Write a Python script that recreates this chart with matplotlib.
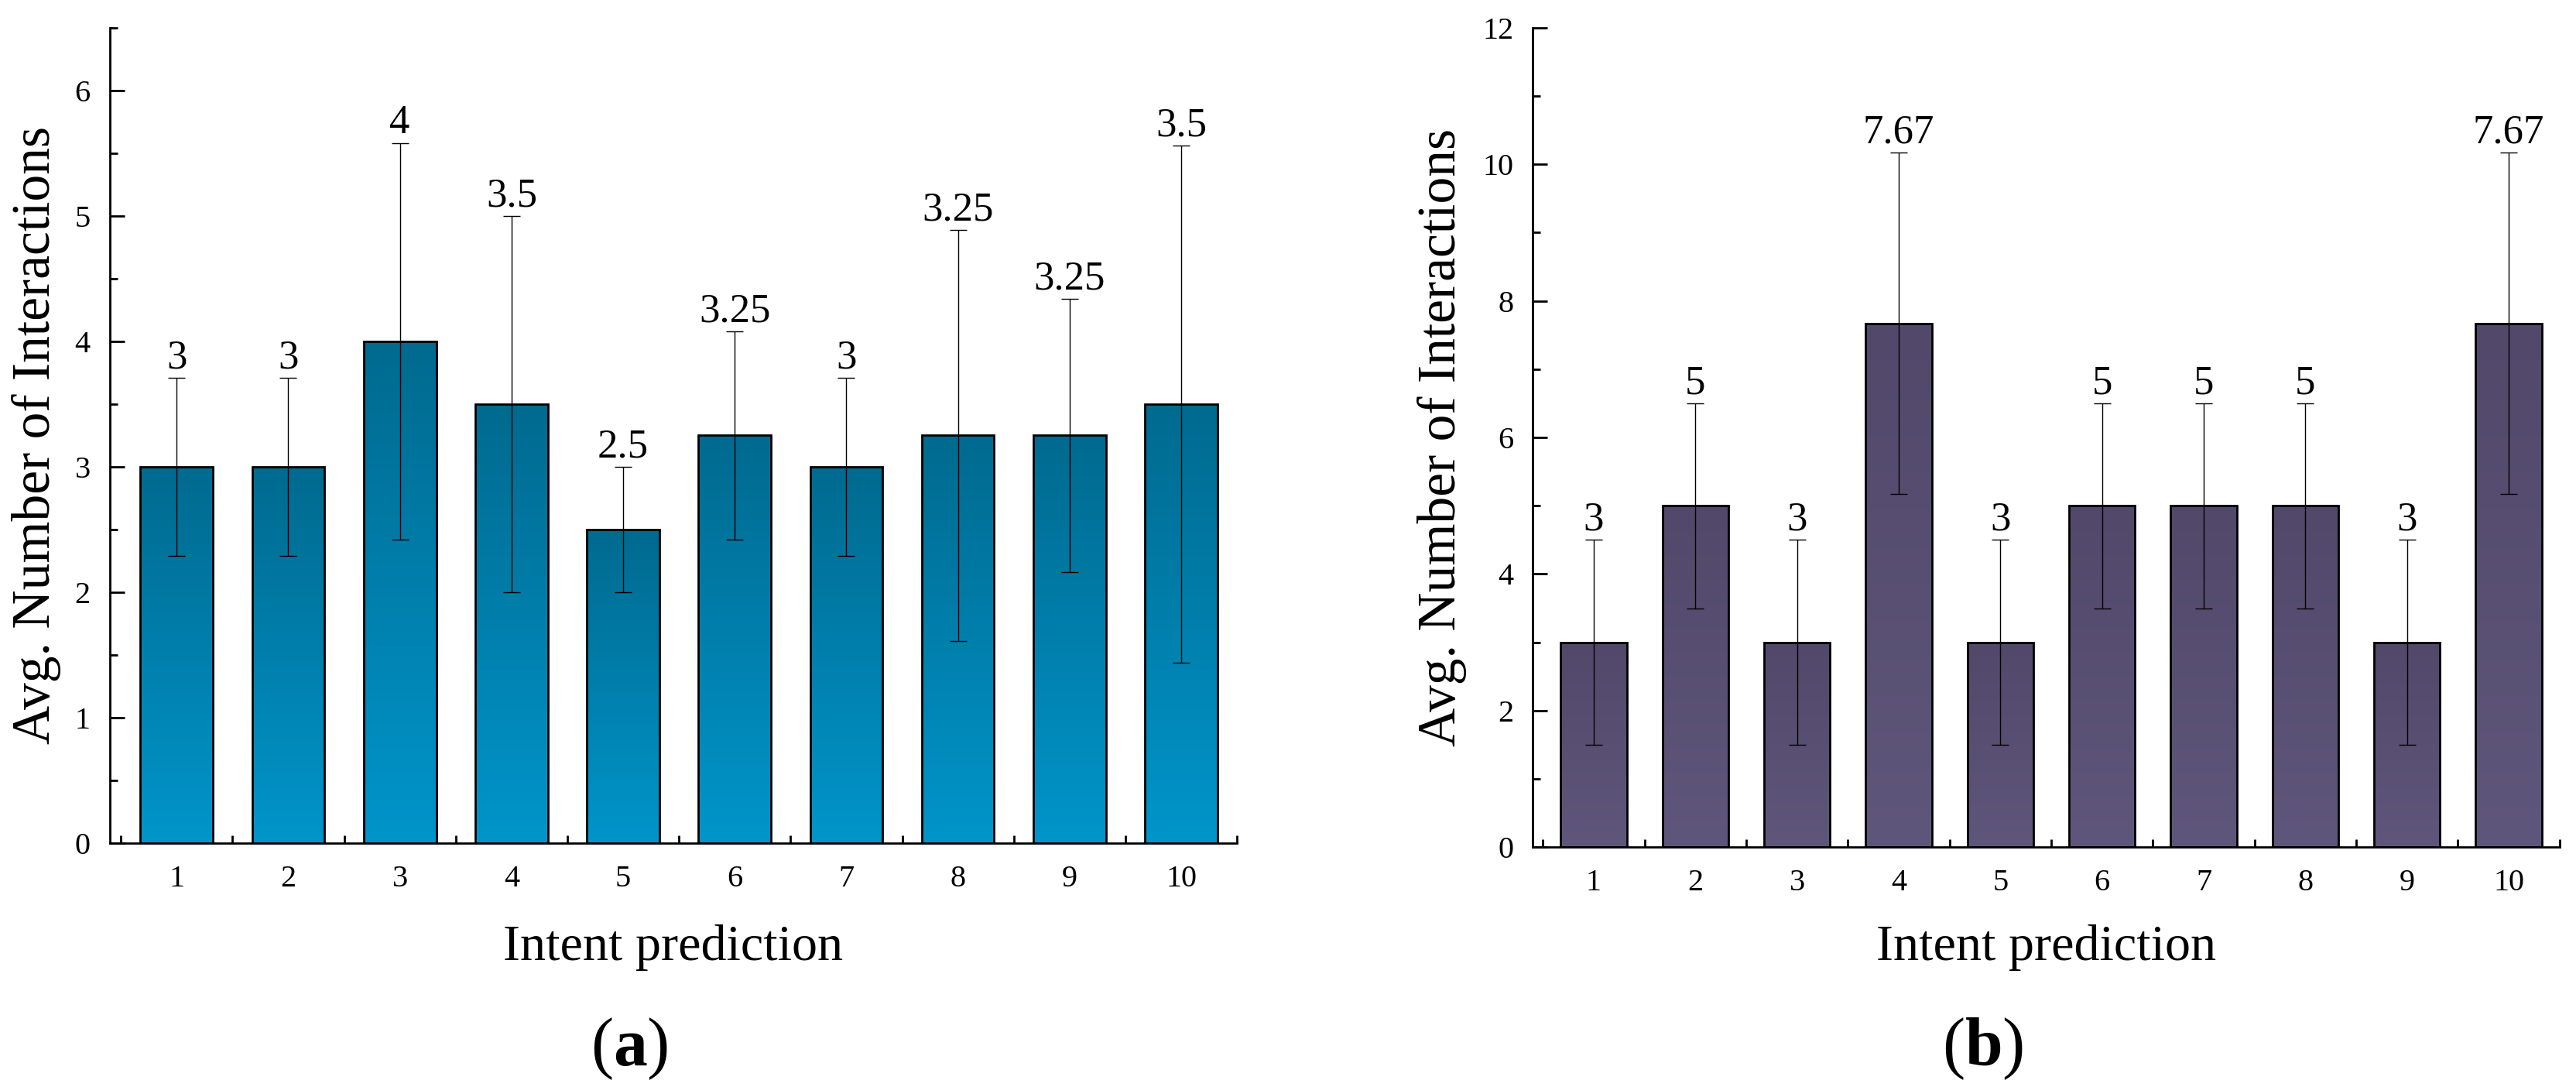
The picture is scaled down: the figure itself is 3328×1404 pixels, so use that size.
import matplotlib
matplotlib.use('Agg')
import matplotlib.pyplot as plt
import numpy as np
from matplotlib.colors import LinearSegmentedColormap
from matplotlib.ticker import FixedLocator, MultipleLocator

plt.rcParams['font.family'] = ['Liberation Serif', 'DejaVu Serif']
plt.rcParams['mathtext.fontset'] = 'custom'
plt.rcParams['mathtext.rm'] = 'Liberation Serif'
plt.rcParams['mathtext.bf'] = 'Liberation Serif:bold'

# ---- data ----
categories = [1, 2, 3, 4, 5, 6, 7, 8, 9, 10]
means_a = [3, 3, 4, 3.5, 2.5, 3.25, 3, 3.25, 3.25, 3.5]
err_a = [0.71, 0.71, 1.58, 1.5, 0.5, 0.83, 0.71, 1.64, 1.09, 2.06]
labels_a = ['3', '3', '4', '3.5', '2.5', '3.25', '3', '3.25', '3.25', '3.5']
means_b = [3, 5, 3, 7.67, 3, 5, 5, 5, 3, 7.67]
err_b = [1.5, 1.5, 1.5, 2.5, 1.5, 1.5, 1.5, 1.5, 1.5, 2.5]
labels_b = ['3', '5', '3', '7.67', '3', '5', '5', '5', '3', '7.67']
xlabel = 'Intent prediction'
ylabel = 'Avg. Number of Interactions'

fig = plt.figure(figsize=(16.64, 7.02), dpi=200)
ax1 = fig.add_axes([0.0426, 0.2244, 0.4376, 0.7502])
ax2 = fig.add_axes([0.5950, 0.2206, 0.3986, 0.7540])


def draw(ax, means, errs, labels, c_top, c_bot, ylim, major, minor, ylab_x, xlab_y):
    x = np.array(categories, dtype=float)
    bars = ax.bar(x, means, width=0.65, facecolor='none', edgecolor='black',
                  linewidth=1.0, zorder=3)
    cmap = LinearSegmentedColormap.from_list('grad', [c_bot, c_top])
    grad = np.linspace(0, 1, 256).reshape(-1, 1)
    for b in bars:
        x0, y0 = b.get_x(), b.get_y()
        w, h = b.get_width(), b.get_height()
        im = ax.imshow(grad, extent=[x0, x0 + w, y0, y0 + h], origin='lower',
                       aspect='auto', cmap=cmap, zorder=2, interpolation='bilinear')
        im.set_clip_path(b)
    ax.errorbar(x, means, yerr=errs, fmt='none', ecolor='black', elinewidth=0.5,
                capsize=3.8, capthick=0.5, zorder=4)
    for xi, m, e, lab in zip(x, means, errs, labels):
        ax.annotate(lab, (xi, m + e), xytext=(0, 0.5), textcoords='offset points',
                    ha='center', va='bottom', fontsize=19)
    ax.set_xlim(0.4, 10.5)
    ax.set_ylim(*ylim)
    ax.set_aspect('auto')
    for s in ['top', 'right']:
        ax.spines[s].set_visible(False)
    for s in ['left', 'bottom']:
        ax.spines[s].set_linewidth(1.0)
    ax.set_xticks(x)
    ax.set_xticklabels([str(c) for c in categories])
    ax.xaxis.set_minor_locator(FixedLocator(np.arange(0.5, 11.0, 1.0)))
    ax.yaxis.set_major_locator(MultipleLocator(major))
    ax.yaxis.set_minor_locator(MultipleLocator(minor))
    ax.tick_params(which='major', direction='in', length=7, width=1.0, labelsize=14.5)
    ax.tick_params(which='minor', direction='in', length=3.6, width=1.0)
    ax.tick_params(axis='x', which='major', pad=10)
    ax.tick_params(axis='y', which='major', pad=9)
    ax.set_ylabel(ylabel, fontsize=25)
    ax.yaxis.set_label_coords(ylab_x, 0.5)
    ax.set_xlabel(xlabel, fontsize=23.8)
    ax.xaxis.label.set_va('baseline')
    ax.xaxis.set_label_coords(0.5, xlab_y)


draw(ax1, means_a, err_a, labels_a, '#006A8F', '#0095CA', (0, 6.5), 1, 0.5, -0.043, -0.143)
draw(ax2, means_b, err_b, labels_b, '#51486A', '#5F577B', (0, 12), 2, 1, -0.064, -0.138)

fig.text(813 / 3328, 0.035, r'($\mathbf{a}$)', ha='center', va='center', fontsize=31.5)
fig.text(2562 / 3328, 0.035, r'($\mathbf{b}$)', ha='center', va='center', fontsize=31.5)

fig.savefig('out.png', dpi=200)
